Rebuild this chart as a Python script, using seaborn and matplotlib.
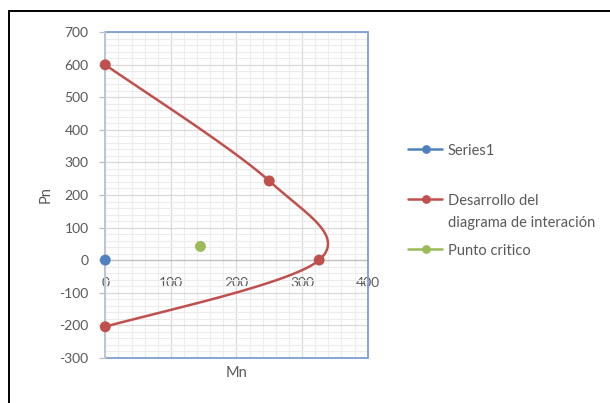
import numpy as np
import pandas as pd
import matplotlib
matplotlib.use("Agg")
import matplotlib.pyplot as plt
from matplotlib.lines import Line2D
from matplotlib.patches import Rectangle
import seaborn as sns

# Interaction diagram data (Mn, Pn)
series1_mn = [0]
series1_pn = [0]
diagram_mn = [0, 250, 326, 0]
diagram_pn = [600, 243, 0, -205]
critical_mn = [145]
critical_pn = [42]

x_ticks = [0, 100, 200, 300, 400]
y_ticks = [-300, -200, -100, 0, 100, 200, 300, 400, 500, 600, 700]

legend_labels = ["Series1", "Desarrollo del\ndiagrama de interación", "Punto critico"]

BLUE = "#4f81bd"
RED = "#c0504d"
GREEN = "#9bbb59"
TEXT = "#595959"

sns.set_theme(style="white")
plt.rcParams["font.family"] = ["Lato", "DejaVu Sans"]


def smooth_curve(xs, ys, n=80):
    """Cubic Bezier smoothing through the points (Catmull-Rom tangents)."""
    p = np.column_stack([xs, ys]).astype(float)
    ext = np.vstack([p[0], p, p[-1]])
    t = np.linspace(0, 1, n)[:, None]
    parts = []
    for i in range(len(p) - 1):
        p0, p3 = p[i], p[i + 1]
        c1 = p0 + (ext[i + 2] - ext[i]) / 6
        c2 = p3 - (ext[i + 3] - ext[i + 1]) / 6
        seg = ((1 - t) ** 3) * p0 + 3 * ((1 - t) ** 2) * t * c1 \
            + 3 * (1 - t) * (t ** 2) * c2 + (t ** 3) * p3
        parts.append(seg if i == 0 else seg[1:])
    return np.vstack(parts)


fig = plt.figure(figsize=(6.10, 4.03), dpi=100)
ax = fig.add_axes([0.1726, 0.1124, 0.4302, 0.8075])

curve = smooth_curve(diagram_mn, diagram_pn)
curve_df = pd.DataFrame({"Mn": curve[:, 0], "Pn": curve[:, 1]})
sns.lineplot(data=curve_df, x="Mn", y="Pn", sort=False, estimator=None,
             color=RED, linewidth=1.8, ax=ax, zorder=4)
line = ax.get_lines()[-1]
line.set_solid_capstyle("round")
line.set_solid_joinstyle("round")

sns.scatterplot(x=diagram_mn, y=diagram_pn, color=RED, s=62, edgecolor="none",
                ax=ax, zorder=5, clip_on=False)
sns.scatterplot(x=series1_mn, y=series1_pn, color=BLUE, s=62, edgecolor="none",
                ax=ax, zorder=5, clip_on=False)
sns.scatterplot(x=critical_mn, y=critical_pn, color=GREEN, s=62, edgecolor="none",
                ax=ax, zorder=5)

ax.set_xlim(0, 400)
ax.set_ylim(-300, 700)
ax.set_xticks(x_ticks)
ax.set_yticks(y_ticks)
ax.set_xticks(np.arange(0, 401, 20), minor=True)
ax.set_yticks(np.arange(-300, 701, 20), minor=True)
ax.set_xticklabels([str(v) for v in x_ticks])
ax.set_yticklabels([str(v) for v in y_ticks])

ax.grid(which="minor", color="#ececec", linewidth=0.8, zorder=0)
ax.grid(which="major", color="#d9d9d9", linewidth=0.9, zorder=0)
ax.set_axisbelow(True)

# horizontal axis crosses at Pn = 0
ax.spines["bottom"].set_position(("data", 0))
ax.spines["bottom"].set_color("#bfbfbf")
ax.spines["bottom"].set_linewidth(0.9)
ax.spines["left"].set_color("#bcc6d6")
ax.spines["left"].set_linewidth(1.4)
ax.spines["top"].set_visible(False)
ax.spines["right"].set_visible(False)
ax.add_patch(Rectangle((0, 0), 1, 1, transform=ax.transAxes, fill=False,
                       edgecolor="#7b9fd0", linewidth=1.3, zorder=3,
                       clip_on=False))
ax.spines["left"].set_zorder(3.5)

ax.tick_params(axis="y", which="major", length=4, width=0.9, color="#bfbfbf",
               direction="out", labelsize=10, labelcolor=TEXT, pad=8, left=True)
ax.tick_params(axis="x", which="major", length=0, labelsize=10,
               labelcolor=TEXT, pad=12)
ax.tick_params(which="minor", length=0)

ax.set_xlabel("Mn", fontsize=10.5, color=TEXT)
ax.set_ylabel("Pn", fontsize=10.5, color=TEXT)
ax.xaxis.set_label_coords(0.5, -0.026)
ax.yaxis.set_label_coords(-0.20, 0.5)

# legend drawn in figure pixel space
W, H = 610, 403


def fx(px):
    return px / W


def fy(py):
    return 1 - py / H


entries = [(BLUE, legend_labels[0], 149.3),
           (RED, legend_labels[1], 199.5),
           (GREEN, legend_labels[2], 249.0)]
for color, label, yc in entries:
    fig.add_artist(Line2D([fx(408), fx(442)], [fy(yc), fy(yc)], color=color,
                          linewidth=1.8, transform=fig.transFigure))
    fig.add_artist(Line2D([fx(425.5)], [fy(yc)], color=color, marker="o",
                          markersize=6.3, markeredgewidth=0,
                          transform=fig.transFigure))
    fig.text(fx(447.5), fy(yc) + 0.0135, label, fontsize=10.5, color=TEXT,
             ha="left", va="top", linespacing=1.75)

# outer frame
fig.add_artist(Line2D([fx(8.8), 1], [fy(11.2), fy(11.2)], color="black",
                      linewidth=1.4, transform=fig.transFigure))
fig.add_artist(Line2D([fx(8.8), fx(8.8)], [0, fy(11.2)], color="black",
                      linewidth=1.4, transform=fig.transFigure))

fig.savefig("out.png", dpi=100)
